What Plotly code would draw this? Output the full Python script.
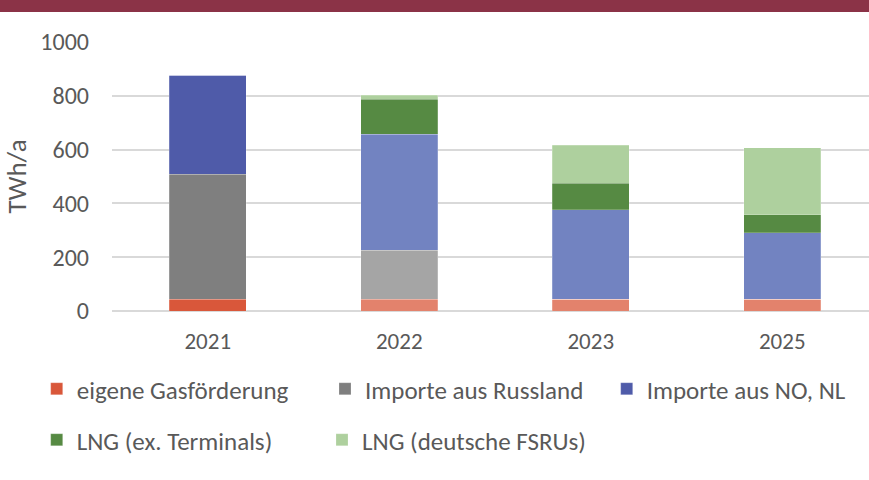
import plotly.graph_objects as go

years = ["2021", "2022", "2023", "2025"]
eigene = [43, 43, 43, 43]
russland = [466, 182, 0, 0]
no_nl = [368, 432, 333, 248]
lng_ex = [0, 130, 98, 66]
lng_fsru = [0, 15, 143, 249]

names = ["eigene Gasförderung", "Importe aus Russland", "Importe aus NO, NL",
         "LNG (ex. Terminals)", "LNG (deutsche FSRUs)"]
colors = [
    ["#D9573A", "#E3826C", "#E3826C", "#E3826C"],
    ["#7F7F7F", "#A5A5A5", "#A5A5A5", "#A5A5A5"],
    ["#4F5BA9", "#7283C1", "#7283C1", "#7283C1"],
    ["#568A43", "#568A43", "#568A43", "#568A43"],
    ["#AED09E", "#AED09E", "#AED09E", "#AED09E"],
]
series = [eigene, russland, no_nl, lng_ex, lng_fsru]

FONT = "Carlito"
GREY = "#595959"
xpos = list(range(len(years)))

# one legend per entry so each can sit where the reference puts it (container px)
legend_pos = [(36.7, 389), (325, 389), (606.7, 389), (36.7, 440), (322, 440)]
legend_ids = ["legend", "legend2", "legend3", "legend4", "legend5"]

fig = go.Figure()
for name, vals, col, lg in zip(names, series, colors, legend_ids):
    fig.add_trace(go.Bar(
        x=xpos, y=vals, name=name, width=0.4,
        marker=dict(color=col, line=dict(color="rgba(255,255,255,0.35)", width=0.6)),
        legend=lg,
    ))

layout_legends = {}
for lg, (px, py) in zip(legend_ids, legend_pos):
    layout_legends[lg] = dict(
        xref="container", yref="container",
        x=px / 869, xanchor="left", y=1 - py / 480, yanchor="middle",
        font=dict(family=FONT, size=25, color=GREY), itemwidth=30,
        bgcolor="rgba(0,0,0,0)", orientation="h",
    )

fig.update_layout(
    barmode="stack",
    width=869, height=480,
    margin=dict(l=112, r=0, t=42, b=169),
    plot_bgcolor="white", paper_bgcolor="white",
    font=dict(family=FONT, size=24, color=GREY),
    showlegend=True,
    shapes=[dict(type="rect", xref="paper", yref="paper",
                 x0=-0.2, x1=1.05, y0=1.1115, y1=1.25,
                 fillcolor="#8B3347", line=dict(width=0), layer="above")],
    **layout_legends,
)
fig.update_xaxes(
    tickmode="array", tickvals=xpos, ticktext=years,
    range=[-0.5, 3.453], showgrid=False, zeroline=False, showline=False,
    tickfont=dict(family=FONT, size=23, color=GREY), ticks="", ticklabelstandoff=14,
)
fig.update_yaxes(
    range=[0, 1000], tickvals=[0, 200, 400, 600, 800, 1000],
    showgrid=True, gridcolor="#D9D9D9", gridwidth=1.5,
    zeroline=True, zerolinecolor="#D9D9D9", zerolinewidth=1.5,
    tickfont=dict(family=FONT, size=24, color=GREY), ticks="", ticklabelstandoff=22,
    title=dict(text="TWh/a", font=dict(family=FONT, size=27, color=GREY), standoff=6),
)

fig.write_html("out.html", config={"displayModeBar": False},
               post_script="document.body.style.margin='0';")
